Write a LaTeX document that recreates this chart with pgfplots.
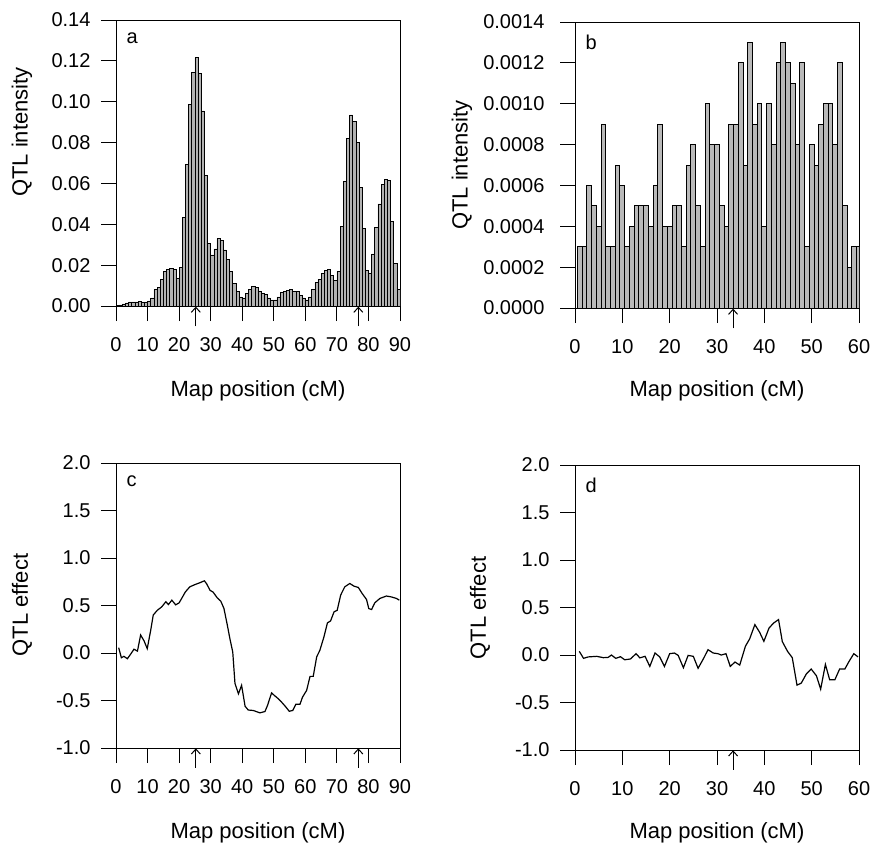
\documentclass[border=0pt]{standalone}
\usepackage{pgfplots}
\pgfplotsset{compat=1.18}
\usepackage{fontspec}
\setmainfont{Liberation Sans}
\usetikzlibrary{arrows.meta}

\pgfplotsset{
  qtl/.style={
    scale only axis, width=284pt,
    axis line style={line width=1pt},
    every tick/.style={line width=1pt, black},
    major tick length=15pt,
    tick align=outside, tick pos=left,
    tick label style={font=\fontsize{20}{24}\selectfont},
    xticklabel shift=13pt,
    yticklabel shift=7pt,
    /pgf/number format/assume math mode=true,
    enlargelimits=false,
    clip mode=individual,
  },
}
\tikzset{qtlarrow/.style={-{Straight Barb[length=5pt,width=9pt]}, line width=1pt}}
\newcommand{\lab}{\fontsize{22}{26}\selectfont}

\begin{document}
\begin{tikzpicture}
\useasboundingbox (0pt,0pt) rectangle (872pt,-844pt);

% ---- a: intensity, chromosome 1 ----
\begin{axis}[qtl, at={(116pt,-306pt)}, anchor=south west, height=286pt,
    ybar, bar width=1,
    xmin=0, xmax=90, ymin=0, ymax=0.14,
    xtick={0,10,20,30,40,50,60,70,80,90},
    ytick={0,0.02,0.04,0.06,0.08,0.10,0.12,0.14},
    scaled y ticks=false,
    yticklabel style={/pgf/number format/.cd, fixed, fixed zerofill, precision=2},
]
\addplot[fill=gray!60, draw=black, line width=0.6pt] coordinates {
(0.5,0.0002) (1.5,0.0005) (2.5,0.0010) (3.5,0.0015) (4.5,0.0020) (5.5,0.0020)
(6.5,0.0020) (7.5,0.0022) (8.5,0.0020) (9.5,0.0020) (10.5,0.0025) (11.5,0.0040)
(12.5,0.0080) (13.5,0.0090) (14.5,0.0130) (15.5,0.0170) (16.5,0.0180) (17.5,0.0185)
(18.5,0.0180) (19.5,0.0135) (20.5,0.0190) (21.5,0.0435) (22.5,0.0695) (23.5,0.0985)
(24.5,0.1145) (25.5,0.1215) (26.5,0.1140) (27.5,0.0955) (28.5,0.0640) (29.5,0.0305)
(30.5,0.0250) (31.5,0.0280) (32.5,0.0330) (33.5,0.0320) (34.5,0.0275) (35.5,0.0230)
(36.5,0.0170) (37.5,0.0110) (38.5,0.0070) (39.5,0.0045) (40.5,0.0040) (41.5,0.0060)
(42.5,0.0080) (43.5,0.0095) (44.5,0.0090) (45.5,0.0070) (46.5,0.0060) (47.5,0.0055)
(48.5,0.0040) (49.5,0.0030) (50.5,0.0030) (51.5,0.0045) (52.5,0.0065) (53.5,0.0070)
(54.5,0.0075) (55.5,0.0080) (56.5,0.0070) (57.5,0.0070) (58.5,0.0050) (59.5,0.0040)
(60.5,0.0030) (61.5,0.0045) (62.5,0.0080) (63.5,0.0115) (64.5,0.0130) (65.5,0.0160)
(66.5,0.0175) (67.5,0.0180) (68.5,0.0150) (69.5,0.0125) (70.5,0.0170) (71.5,0.0390)
(72.5,0.0610) (73.5,0.0820) (74.5,0.0935) (75.5,0.0905) (76.5,0.0800) (77.5,0.0580)
(78.5,0.0380) (79.5,0.0175) (80.5,0.0160) (81.5,0.0255) (82.5,0.0385) (83.5,0.0500)
(84.5,0.0595) (85.5,0.0620) (86.5,0.0615) (87.5,0.0415) (88.5,0.0210) (89.5,0.0080)
};
\node[anchor=north west, font=\fontsize{20}{24}\selectfont] at (rel axis cs:0,1) [xshift=7pt, yshift=-9pt] {a};
\draw[qtlarrow] (axis cs:25.3,-0.0100) -- (axis cs:25.3,-0.0003);
\draw[qtlarrow] (axis cs:76.8,-0.0100) -- (axis cs:76.8,-0.0003);
\end{axis}

% ---- b: intensity, chromosome 2 ----
\begin{axis}[qtl, at={(575pt,-308pt)}, anchor=south west, height=286pt,
    ybar, bar width=1,
    xmin=0, xmax=60, ymin=0, ymax=0.0014,
    xtick={0,10,20,30,40,50,60},
    ytick={0,0.0002,0.0004,0.0006,0.0008,0.0010,0.0012,0.0014},
    scaled y ticks=false,
    yticklabel shift=12pt,
    yticklabel style={/pgf/number format/.cd, fixed, fixed zerofill, precision=4},
]
\addplot[fill=gray!55, draw=black, line width=1pt] coordinates {
(1,0.0003) (2,0.0003) (3,0.0006) (4,0.0005) (5,0.0004) (6,0.0009)
(7,0.0003) (8,0.0003) (9,0.0007) (10,0.0006) (11,0.0003) (12,0.0004)
(13,0.0005) (14,0.0005) (15,0.0005) (16,0.0004) (17,0.0006) (18,0.0009)
(19,0.0004) (20,0.0004) (21,0.0005) (22,0.0005) (23,0.0003) (24,0.0007)
(25,0.0008) (26,0.0005) (27,0.0003) (28,0.0010) (29,0.0008) (30,0.0008)
(31,0.0005) (32,0.0004) (33,0.0009) (34,0.0009) (35,0.0012) (36,0.0007)
(37,0.0013) (38,0.0009) (39,0.0010) (40,0.0004) (41,0.0010) (42,0.0008)
(43,0.0012) (44,0.0013) (45,0.0012) (46,0.0011) (47,0.0008) (48,0.0012)
(49,0.0003) (50,0.0008) (51,0.0007) (52,0.0009) (53,0.0010) (54,0.0010)
(55,0.0008) (56,0.0012) (57,0.0005) (58,0.0002) (59,0.0003) (60,0.0003)
};
\node[anchor=north west, font=\fontsize{20}{24}\selectfont] at (rel axis cs:0,1) [xshift=7pt, yshift=-9pt] {b};
\draw[qtlarrow] (axis cs:33.4,-0.000100) -- (axis cs:33.4,-0.000003);
\end{axis}

% ---- c: effect, chromosome 1 ----
\begin{axis}[qtl, at={(116pt,-748pt)}, anchor=south west, height=285pt,
    xmin=0, xmax=90, ymin=-1, ymax=2,
    xtick={0,10,20,30,40,50,60,70,80,90},
    ytick={-1,-0.5,0,0.5,1,1.5,2},
    yticklabel style={/pgf/number format/.cd, fixed, fixed zerofill, precision=1},
]
\addplot[black, line width=1.2pt, no markers] coordinates {
(0.85,0.056) (1.7,-0.05) (2.5,-0.035) (3.6,-0.06) (4.6,-0.014) (5.7,0.04)
(6.8,0.02) (7.8,0.19) (8.9,0.127) (9.9,0.046) (11.0,0.24) (11.8,0.40)
(13.1,0.45) (14.5,0.486) (15.8,0.54) (16.6,0.51) (17.7,0.556) (18.9,0.507)
(20.0,0.528) (20.8,0.574) (22.0,0.644) (23.4,0.697) (25.0,0.72) (26.6,0.74)
(28.0,0.76) (28.7,0.73) (29.8,0.66) (30.8,0.64) (32.1,0.58) (33.2,0.546)
(34.2,0.47) (35.3,0.29) (36.1,0.15) (37.0,0.01) (37.7,-0.32) (38.8,-0.43)
(39.8,-0.34) (40.9,-0.56) (41.9,-0.60) (43.5,-0.605) (45.6,-0.63) (47.2,-0.616)
(48.0,-0.553) (49.3,-0.42) (50.2,-0.447) (51.2,-0.475) (52.5,-0.518) (53.7,-0.563)
(54.9,-0.613) (56.0,-0.605) (57.0,-0.54) (58.3,-0.54) (59.1,-0.465) (60.4,-0.394)
(61.5,-0.246) (62.5,-0.246) (63.6,-0.04) (64.6,0.028) (65.9,0.17) (67.0,0.317)
(68.0,0.338) (69.1,0.433) (70.1,0.45) (71.2,0.61) (72.5,0.697) (74.1,0.732)
(75.4,0.704) (76.8,0.69) (78.0,0.627) (79.4,0.563) (80.1,0.468) (81.0,0.458)
(82.0,0.528) (83.6,0.574) (85.7,0.60) (87.3,0.59) (88.9,0.574) (89.8,0.556)
};
\node[anchor=north west, font=\fontsize{20}{24}\selectfont] at (rel axis cs:0,1) [xshift=7pt, yshift=-9pt] {c};
\draw[qtlarrow] (axis cs:25.3,-1.21) -- (axis cs:25.3,-1.003);
\draw[qtlarrow] (axis cs:76.8,-1.21) -- (axis cs:76.8,-1.003);
\end{axis}

% ---- d: effect, chromosome 2 ----
\begin{axis}[qtl, at={(575pt,-750pt)}, anchor=south west, height=285pt,
    xmin=0, xmax=60, ymin=-1, ymax=2,
    xtick={0,10,20,30,40,50,60},
    ytick={-1,-0.5,0,0.5,1,1.5,2},
    yticklabel style={/pgf/number format/.cd, fixed, fixed zerofill, precision=1},
]
\addplot[black, line width=1.2pt, no markers] coordinates {
(0.9,0.039) (1.8,-0.035) (2.8,-0.02) (4.6,-0.014) (6.0,-0.028) (7.0,-0.025)
(7.7,0.0) (8.6,-0.035) (9.6,-0.018) (10.5,-0.05) (11.7,-0.042) (12.9,0.014)
(13.7,-0.03) (14.8,-0.014) (15.8,-0.12) (16.9,0.021) (17.9,-0.02) (18.9,-0.12)
(20.0,0.014) (21.0,0.021) (21.8,-0.004) (22.9,-0.134) (23.9,-0.004) (25.0,-0.014)
(26.0,-0.14) (27.1,-0.042) (28.1,0.056) (29.2,0.021) (30.2,0.014) (30.9,0.0)
(31.9,0.014) (32.8,-0.12) (33.8,-0.074) (34.8,-0.106) (36.0,0.092) (36.9,0.17)
(38.0,0.32) (39.0,0.24) (39.9,0.144) (41.0,0.285) (42.0,0.338) (43.0,0.373)
(43.8,0.141) (44.9,0.039) (45.9,-0.028) (46.9,-0.317) (47.8,-0.296) (48.9,-0.197)
(49.9,-0.148) (51.0,-0.218) (51.9,-0.359) (52.9,-0.099) (53.8,-0.26) (54.9,-0.26)
(55.9,-0.148) (57.0,-0.148) (57.9,-0.067) (58.9,0.014) (59.8,-0.02)
};
\node[anchor=north west, font=\fontsize{20}{24}\selectfont] at (rel axis cs:0,1) [xshift=7pt, yshift=-9pt] {d};
\draw[qtlarrow] (axis cs:33.4,-1.21) -- (axis cs:33.4,-1.003);
\end{axis}

% ---- axis titles ----
\node[rotate=90, font=\lab] at (22pt,-132pt) {QTL intensity};
\node[rotate=90, font=\lab] at (462pt,-165pt) {QTL intensity};
\node[rotate=90, font=\lab] at (22pt,-605pt) {QTL effect};
\node[rotate=90, font=\lab] at (480pt,-608pt) {QTL effect};
\node[font=\lab] at (258pt,-391pt) {Map position (cM)};
\node[font=\lab] at (717pt,-391pt) {Map position (cM)};
\node[font=\lab] at (258pt,-833pt) {Map position (cM)};
\node[font=\lab] at (717pt,-833pt) {Map position (cM)};
\end{tikzpicture}
\end{document}
